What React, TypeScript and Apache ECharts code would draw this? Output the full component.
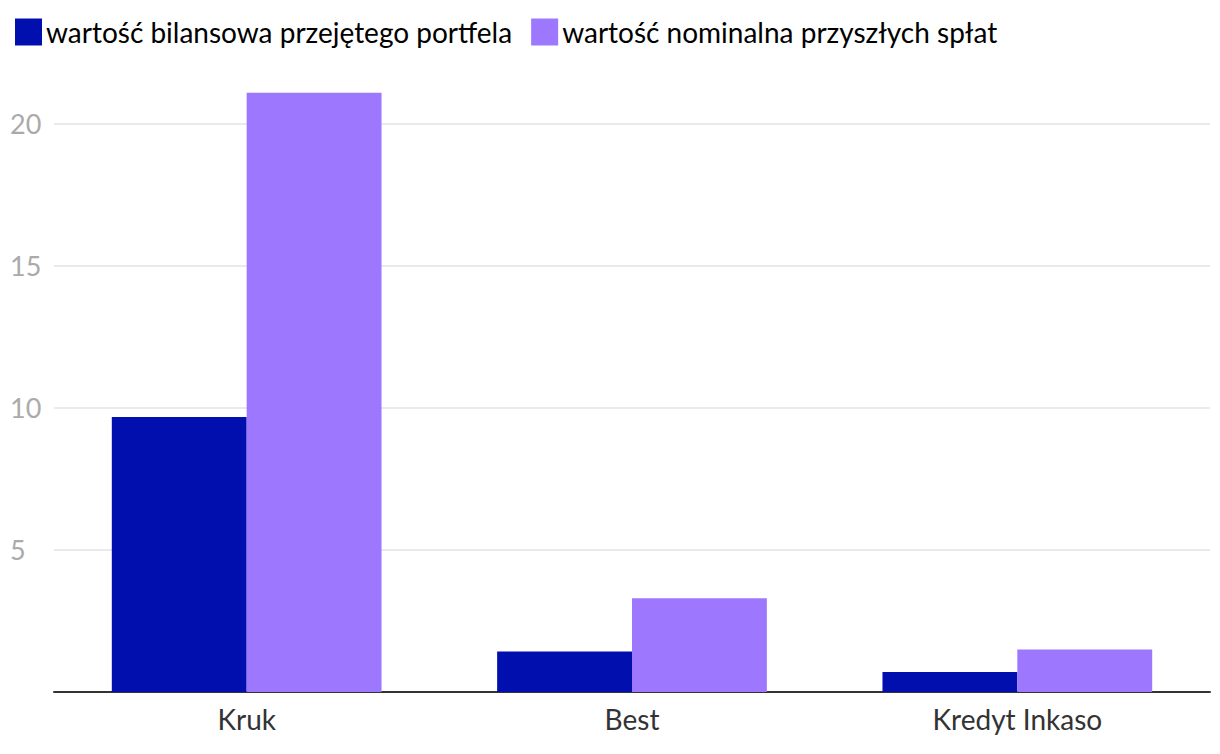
import React, { useEffect, useRef } from "react";
import * as echarts from "echarts";

const categories = ["Kruk", "Best", "Kredyt Inkaso"];
const bookValue = [9.68, 1.43, 0.7];
const nominalValue = [21.09, 3.3, 1.5];
const seriesNames = ["wartość bilansowa przejętego portfela", "wartość nominalna przyszłych spłat"];

export default function App() {
  const ref = useRef<HTMLDivElement>(null);
  useEffect(() => {
    const chart = echarts.init(ref.current!, null, { renderer: "svg" });
    chart.setOption({
      animation: false,
      textStyle: { fontFamily: "Lato" },
      legend: {
        left: 10,
        top: 13,
        itemWidth: 27,
        itemHeight: 27,
        itemGap: 19,
        icon: "rect",
        textStyle: { fontSize: 28, color: "#000", fontFamily: "Lato", padding: [0, 0, 0, -1] },
        data: seriesNames,
      },
      grid: { left: 54, right: 10, top: 67, bottom: 62, containLabel: false },
      xAxis: {
        type: "category",
        data: categories,
        axisLine: { lineStyle: { color: "#333", width: 2 } },
        axisTick: { show: false },
        axisLabel: { fontSize: 28, color: "#333", margin: 13, fontFamily: "Lato" },
      },
      yAxis: {
        type: "value",
        min: 0,
        max: 22,
        interval: 5,
        axisLine: { show: false },
        axisTick: { show: false },
        axisLabel: {
          fontSize: 27,
          color: "#aaa",
          align: "left",
          margin: 44,
          showMaxLabel: false,
          showMinLabel: false,
          fontFamily: "Lato",
        },
        splitLine: { lineStyle: { color: "#e3e3e3", width: 1.5 }, showMaxLine: false },
      },
      series: [
        {
          name: seriesNames[0],
          type: "bar",
          data: bookValue,
          itemStyle: { color: "#020faf" },
          barGap: "0%",
          barCategoryGap: "30%",
        },
        {
          name: seriesNames[1],
          type: "bar",
          data: nominalValue,
          itemStyle: { color: "#9e77ff" },
          barGap: "0%",
          barCategoryGap: "30%",
        },
      ],
    });
    return () => chart.dispose();
  }, []);
  return <div ref={ref} style={{ width: 1220, height: 754, position: "absolute", left: 0, top: 0 }} />;
}
